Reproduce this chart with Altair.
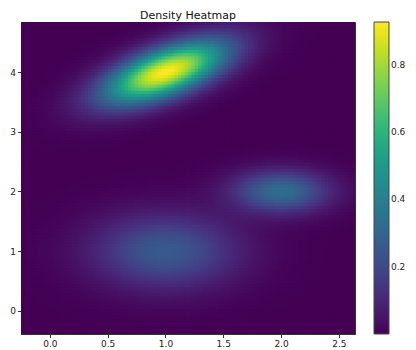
import numpy as np
import pandas as pd
import altair as alt

# Extent of the heatmap
x_extent = [-0.25, 2.64]
y_extent = [-0.39, 4.84]
n_cells = [100, 100]

# Gaussian density components
comp_cx = [1.0, 2.0, 1.0]
comp_cy = [4.0, 2.0, 1.0]
comp_sx = [0.36, 0.28, 0.42]
comp_sy = [0.36, 0.24, 0.42]
comp_rho = [0.62, 0.0, 0.0]
comp_amp = [0.93, 0.33, 0.26]

x_ticks = [0.0, 0.5, 1.0, 1.5, 2.0, 2.5]
y_ticks = [0, 1, 2, 3, 4]
cbar_ticks = [0.2, 0.4, 0.6, 0.8]

xe = np.linspace(x_extent[0], x_extent[1], n_cells[0] + 1)
ye = np.linspace(y_extent[0], y_extent[1], n_cells[1] + 1)
xc = (xe[:-1] + xe[1:]) / 2
yc = (ye[:-1] + ye[1:]) / 2
X, Y = np.meshgrid(xc, yc)
Z = np.zeros_like(X)
for cx, cy, sx, sy, r, a in zip(comp_cx, comp_cy, comp_sx, comp_sy, comp_rho, comp_amp):
    dx = (X - cx) / sx
    dy = (Y - cy) / sy
    q = (dx * dx - 2 * r * dx * dy + dy * dy) / (1 - r * r)
    Z += a * np.exp(-0.5 * q)

# small overlap between neighbouring cells hides anti-aliasing seams
ox = 0.4 * (xe[1] - xe[0])
oy = 0.4 * (ye[1] - ye[0])
x1e = np.minimum(xe[1:] + ox, x_extent[1])
y1e = np.minimum(ye[1:] + oy, y_extent[1])
X0, Y0 = np.meshgrid(xe[:-1], ye[:-1])
X1, Y1 = np.meshgrid(x1e, y1e)
df = pd.DataFrame({
    "x": X0.ravel().round(4), "x2": X1.ravel().round(4),
    "y": Y0.ravel().round(4), "y2": Y1.ravel().round(4),
    "z": Z.ravel().round(4),
})
zmin, zmax = float(df.z.min()), float(df.z.max())

chart = alt.Chart(df).mark_rect().encode(
    x=alt.X("x:Q", scale=alt.Scale(domain=x_extent, nice=False, zero=False),
            axis=alt.Axis(values=x_ticks, format=".1f", title=None)),
    x2="x2:Q",
    y=alt.Y("y:Q", scale=alt.Scale(domain=y_extent, nice=False, zero=False),
            axis=alt.Axis(values=y_ticks, format="d", title=None)),
    y2="y2:Q",
    color=alt.Color("z:Q", scale=alt.Scale(scheme="viridis", domain=[zmin, zmax]),
                    legend=alt.Legend(values=cbar_ticks, format=".1f", title=None)),
).properties(
    width=334, height=312,
    autosize=alt.AutoSizeParams(type="none"),
    padding={"left": 13, "top": 14, "right": 53, "bottom": 18},
    title=alt.TitleParams("Density Heatmap", fontSize=11, fontWeight="normal",
                          font="DejaVu Sans", color="#111", offset=1),
).configure_axis(
    labelFont="DejaVu Sans", labelFontSize=9, labelColor="#222",
    tickSize=3.5, tickColor="#333", domainColor="#333", labelPadding=2,
    grid=False,
).configure_view(
    stroke="#333", strokeWidth=1,
).configure_legend(
    orient="right", offset=19, padding=0,
    gradientLength=312, gradientVerticalMaxLength=400, gradientThickness=15,
    gradientStrokeColor="#444", gradientStrokeWidth=1,
    labelFont="DejaVu Sans", labelFontSize=9, labelColor="#222", labelOffset=4,
)

chart.save("out.html", embed_options={"renderer": "svg", "actions": False})
